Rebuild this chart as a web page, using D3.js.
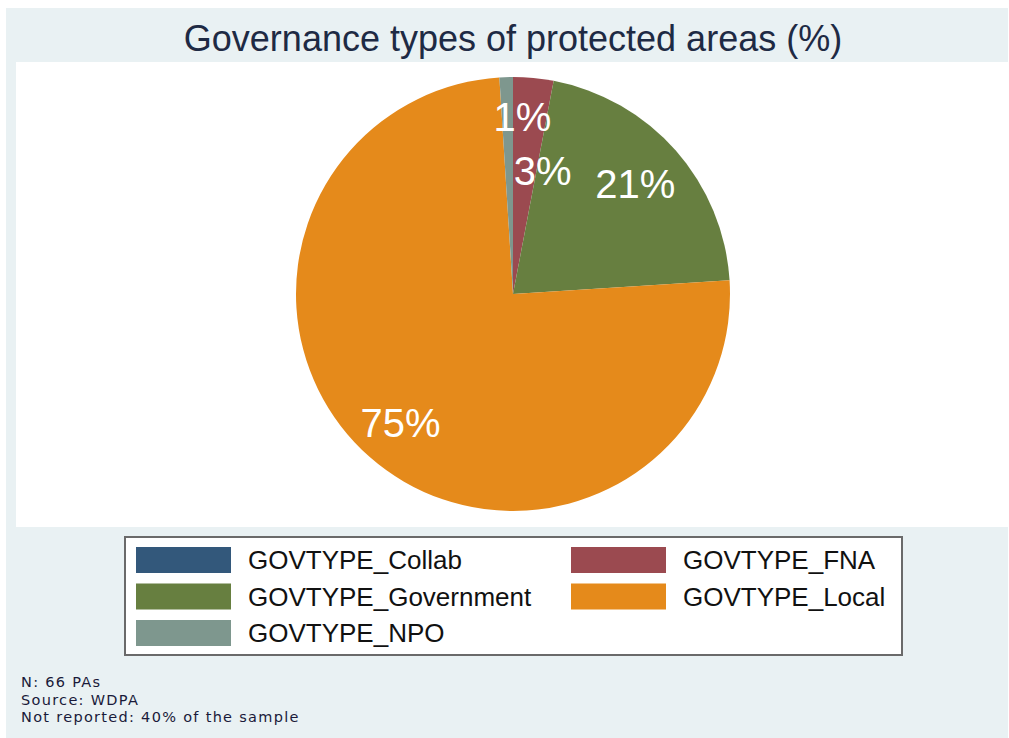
<!DOCTYPE html>
<html>
<head>
<meta charset="utf-8">
<script src="https://cdn.jsdelivr.net/npm/d3@7"></script>
<style>
  html, body { margin: 0; padding: 0; background: #fff; }
  svg { display: block; font-family: "Liberation Sans", Arial, sans-serif; }
</style>
</head>
<body>
<div id="chart"></div>
<script>
// Governance types of protected areas (%)
const categories = ["GOVTYPE_Collab", "GOVTYPE_FNA", "GOVTYPE_Government", "GOVTYPE_Local", "GOVTYPE_NPO"];
const shares = [0, 3, 21, 75, 1];
const colors = ["#33587b", "#9b4a50", "#677f40", "#e58a1b", "#7e978e"];
const notes = ["N: 66 PAs", "Source: WDPA", "Not reported: 40% of the sample"];

const W = 1009, H = 738;
const data = categories.map((c, i) => ({ name: c, value: shares[i], color: colors[i] }));

const svg = d3.select("#chart").append("svg")
  .attr("width", W)
  .attr("height", H);

// background panels
svg.append("rect").attr("x", 6).attr("y", 8).attr("width", 1002).attr("height", H - 8)
  .attr("fill", "#e9f1f3");
svg.append("rect").attr("x", 16).attr("y", 62).attr("width", 992).attr("height", 465)
  .attr("fill", "#fff");

// title
svg.append("text")
  .attr("x", 513)
  .attr("y", 51)
  .attr("text-anchor", "middle")
  .style("font-size", "36px")
  .style("fill", "#1e2a44")
  .text("Governance types of protected areas (%)");

// pie
const cx = 513, cy = 294, R = 217;
const pie = d3.pie().sort(null).value(d => d.value);
const arcs = pie(data);
const arc = d3.arc().innerRadius(0).outerRadius(R);

const g = svg.append("g").attr("transform", `translate(${cx},${cy})`);
g.selectAll("path")
  .data(arcs.filter(d => d.data.value > 0))
  .enter().append("path")
  .attr("d", arc)
  .attr("fill", d => d.data.color);

// slice labels (radius fraction + nudge, per slice)
const labelPos = {
  GOVTYPE_FNA: { r: 0.57, dx: 18 },
  GOVTYPE_Government: { r: 0.77, dx: -3 },
  GOVTYPE_Local: { r: 0.79, dx: 1 },
  GOVTYPE_NPO: { r: 0.82, dx: 15 }
};
g.selectAll(".plabel")
  .data(arcs.filter(d => d.data.value > 0))
  .enter().append("text")
  .attr("class", "plabel")
  .attr("transform", d => {
    const p = labelPos[d.data.name];
    const c = d3.arc().innerRadius(R * p.r).outerRadius(R * p.r).centroid(d);
    return `translate(${c[0] + p.dx},${c[1]})`;
  })
  .attr("text-anchor", "middle")
  .attr("dy", "0.36em")
  .style("font-size", "40px")
  .style("fill", "#fff")
  .text(d => d.data.value + "%");

// legend
const lg = svg.append("g");
lg.append("rect")
  .attr("x", 125).attr("y", 537).attr("width", 777).attr("height", 118)
  .attr("fill", "#fff")
  .attr("stroke", "#6a6a6a")
  .attr("stroke-width", 2);

const col = d3.scaleOrdinal().domain([0, 1]).range([136, 571]);
const row = d3.scaleLinear().domain([0, 1]).range([547, 583.5]);

const items = lg.selectAll(".item")
  .data(data)
  .enter().append("g")
  .attr("class", "item")
  .attr("transform", (d, i) => `translate(${col(i % 2)},${row(Math.floor(i / 2))})`);

items.append("rect")
  .attr("width", 95)
  .attr("height", 26)
  .attr("fill", d => d.color);

items.append("text")
  .attr("x", 112)
  .attr("y", 22)
  .style("font-size", "26px")
  .style("fill", "#111")
  .text(d => d.name);

// notes
svg.append("g").selectAll("text")
  .data(notes)
  .enter().append("text")
  .attr("x", 21)
  .attr("y", (d, i) => 687 + i * 17.5)
  .style("font-family", "'DejaVu Sans', sans-serif")
  .style("font-size", "14.5px")
  .style("letter-spacing", "1.3px")
  .style("fill", "#1a1a3a")
  .text(d => d);
</script>
</body>
</html>
